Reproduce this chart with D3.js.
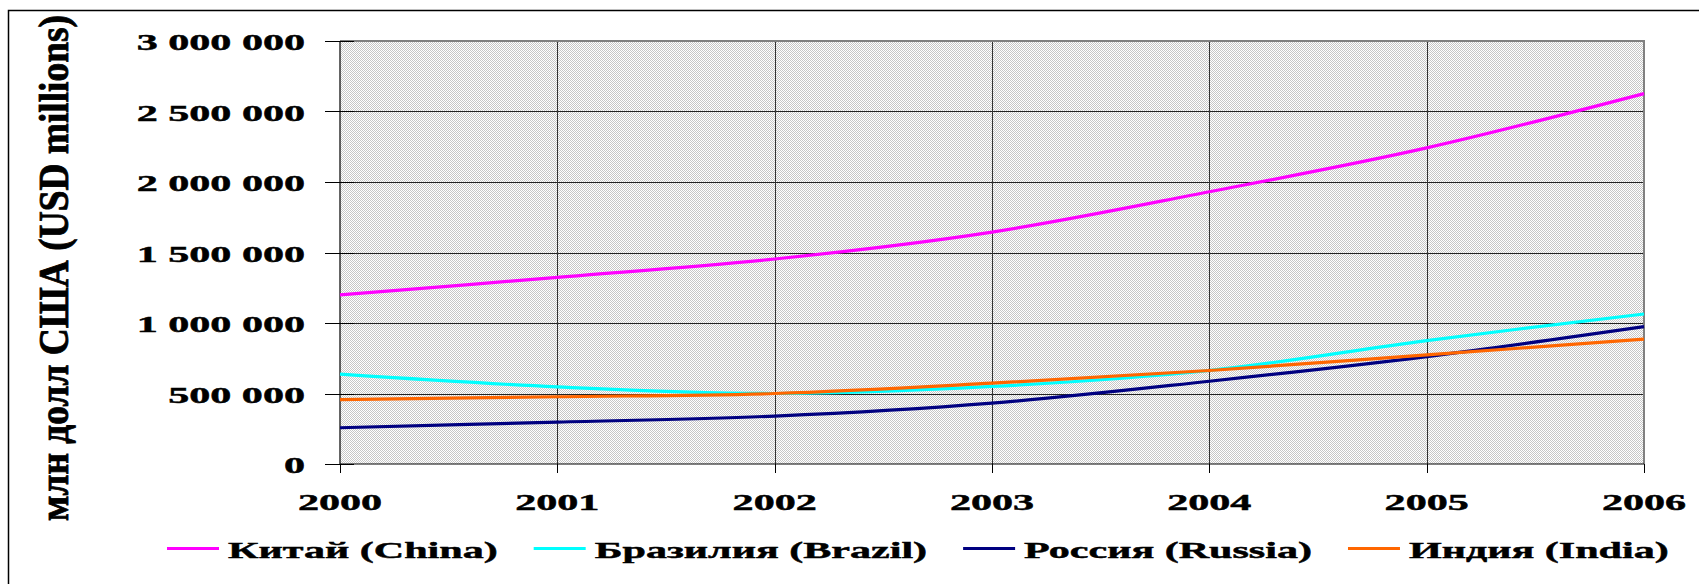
<!DOCTYPE html>
<html>
<head>
<meta charset="utf-8">
<script src="https://cdn.jsdelivr.net/npm/d3@7"></script>
<style>
  html, body { margin: 0; padding: 0; background: #fff; }
  svg { display: block; }
  text { font-family: "Liberation Serif", "Times New Roman", serif; font-weight: bold; fill: #000; stroke: #000; stroke-width: 0.45px; }
</style>
</head>
<body>
<div id="chart"></div>
<script>
// data (USD millions)
const years = [2000, 2001, 2002, 2003, 2004, 2005, 2006];
const china  = [1199000, 1324000, 1454000, 1645000, 1931000, 2242000, 2627000];
const brazil = [637000, 547000, 500000, 550000, 663000, 875000, 1064000];
const russia = [257000, 297000, 340000, 432000, 587000, 762000, 974000];
const india  = [457000, 477000, 500000, 573000, 663000, 774000, 885000];
const seriesNames = ['Китай (China)', 'Бразилия (Brazil)', 'Россия (Russia)', 'Индия (India)'];
const yTicks = [0, 500000, 1000000, 1500000, 2000000, 2500000, 3000000];
const yTitle = 'млн долл США (USD millions)';

const lineColors = ['#ff00ff', '#00ffff', '#000080', '#ff6600'];
const series = [china, brazil, russia, india].map((values, i) => ({
    name: seriesNames[i],
    color: lineColors[i],
    points: years.map((yr, j) => ({year: yr, value: values[j]}))
}));

const W = 1699, H = 584;
const plot = {left: 340, right: 1644, top: 41, bottom: 464};
const FS = 23;   // font size
const SX = 1.83; // the original is stretched sideways

const svg = d3.select('#chart').append('svg')
    .attr('width', W)
    .attr('height', H);

// dotted fill of the plot area
const defs = svg.append('defs');
const pat = defs.append('pattern')
    .attr('id', 'dots')
    .attr('width', 2)
    .attr('height', 2)
    .attr('patternUnits', 'userSpaceOnUse');
pat.append('rect').attr('width', 2).attr('height', 2).attr('fill', '#ffffff');
pat.append('rect').attr('x', 0).attr('y', 0).attr('width', 1).attr('height', 1).attr('fill', '#c6c6c6');
pat.append('rect').attr('x', 1).attr('y', 1).attr('width', 1).attr('height', 1).attr('fill', '#c6c6c6');

// chart frame
svg.append('path')
    .attr('d', `M8.5,${H} V10.5 H${W}`)
    .attr('fill', 'none')
    .attr('stroke', '#000')
    .attr('stroke-width', 1.5);

const x = d3.scaleLinear()
    .domain([years[0], years[years.length - 1]])
    .range([plot.left, plot.right]);

const y = d3.scaleLinear()
    .domain([0, 3000000])
    .range([plot.bottom, plot.top]);

svg.append('rect')
    .attr('x', plot.left)
    .attr('y', plot.top)
    .attr('width', plot.right - plot.left)
    .attr('height', plot.bottom - plot.top)
    .attr('fill', 'url(#dots)');

// grid
svg.append('g')
    .selectAll('line')
    .data(yTicks.filter(d => d > 0 && d < 3000000))
    .enter().append('line')
    .attr('x1', plot.left)
    .attr('x2', plot.right)
    .attr('y1', d => Math.round(y(d)) + 0.5)
    .attr('y2', d => Math.round(y(d)) + 0.5)
    .attr('stroke', '#222')
    .attr('stroke-width', 1);

svg.append('g')
    .selectAll('line')
    .data(years.slice(1, -1))
    .enter().append('line')
    .attr('x1', d => Math.round(x(d)) + 0.5)
    .attr('x2', d => Math.round(x(d)) + 0.5)
    .attr('y1', plot.top)
    .attr('y2', plot.bottom)
    .attr('stroke', '#333')
    .attr('stroke-width', 1);

// plot border: grey top / right, black axes
svg.append('path')
    .attr('d', `M${plot.left},${plot.top} H${plot.right} V${plot.bottom}`)
    .attr('fill', 'none')
    .attr('stroke', '#808080')
    .attr('stroke-width', 2);

svg.append('path')
    .attr('d', `M${plot.left},${plot.top} V${plot.bottom} H${plot.right}`)
    .attr('fill', 'none')
    .attr('stroke', '#000')
    .attr('stroke-width', 1.2);

// y axis ticks and labels
const fmt = d3.formatLocale({decimal: ',', thousands: ' ', grouping: [3], currency: ['', '']}).format(',d');

svg.append('g')
    .selectAll('line')
    .data(yTicks)
    .enter().append('line')
    .attr('x1', plot.left - 15)
    .attr('x2', plot.left + 14)
    .attr('y1', d => Math.round(y(d)) + 0.5)
    .attr('y2', d => Math.round(y(d)) + 0.5)
    .attr('stroke', '#000')
    .attr('stroke-width', 1);

svg.append('g')
    .selectAll('text')
    .data(yTicks)
    .enter().append('text')
    .attr('transform', d => `translate(305,${y(d) + 9}) scale(${SX},1)`)
    .attr('text-anchor', 'end')
    .style('font-size', FS + 'px')
    .text(d => fmt(d));

// x axis ticks and labels
svg.append('g')
    .selectAll('line')
    .data(years)
    .enter().append('line')
    .attr('x1', d => Math.round(x(d)) + 0.5)
    .attr('x2', d => Math.round(x(d)) + 0.5)
    .attr('y1', plot.bottom)
    .attr('y2', plot.bottom + 9)
    .attr('stroke', '#000')
    .attr('stroke-width', 1);

svg.append('g')
    .selectAll('text')
    .data(years)
    .enter().append('text')
    .attr('transform', d => `translate(${x(d)},510) scale(${SX},1)`)
    .attr('text-anchor', 'middle')
    .style('font-size', FS + 'px')
    .text(d => d);

// y axis title
svg.append('text')
    .attr('transform', `translate(68,268) scale(${SX},1) rotate(-90)`)
    .attr('text-anchor', 'middle')
    .attr('textLength', 506)
    .attr('lengthAdjust', 'spacingAndGlyphs')
    .style('font-size', FS + 'px')
    .text(yTitle);

// series lines
const line = d3.line()
    .x(d => x(d.year))
    .y(d => y(d.value))
    .curve(d3.curveCatmullRom);

svg.append('g')
    .selectAll('path')
    .data(series)
    .enter().append('path')
    .attr('d', d => line(d.points))
    .attr('fill', 'none')
    .attr('stroke', d => d.color)
    .attr('stroke-width', 3.2)
    .attr('stroke-linejoin', 'round');

// legend, laid out left to right
const legend = svg.append('g');
let lx = 167;
series.forEach(s => {
    legend.append('line')
        .attr('x1', lx)
        .attr('x2', lx + 52)
        .attr('y1', 548.5)
        .attr('y2', 548.5)
        .attr('stroke', s.color)
        .attr('stroke-width', 3);
    const t = legend.append('text')
        .attr('transform', `translate(${lx + 61},558) scale(${SX},1)`)
        .style('font-size', FS + 'px')
        .text(s.name);
    lx += 61 + t.node().getComputedTextLength() * SX + 36;
});
</script>
</body>
</html>
